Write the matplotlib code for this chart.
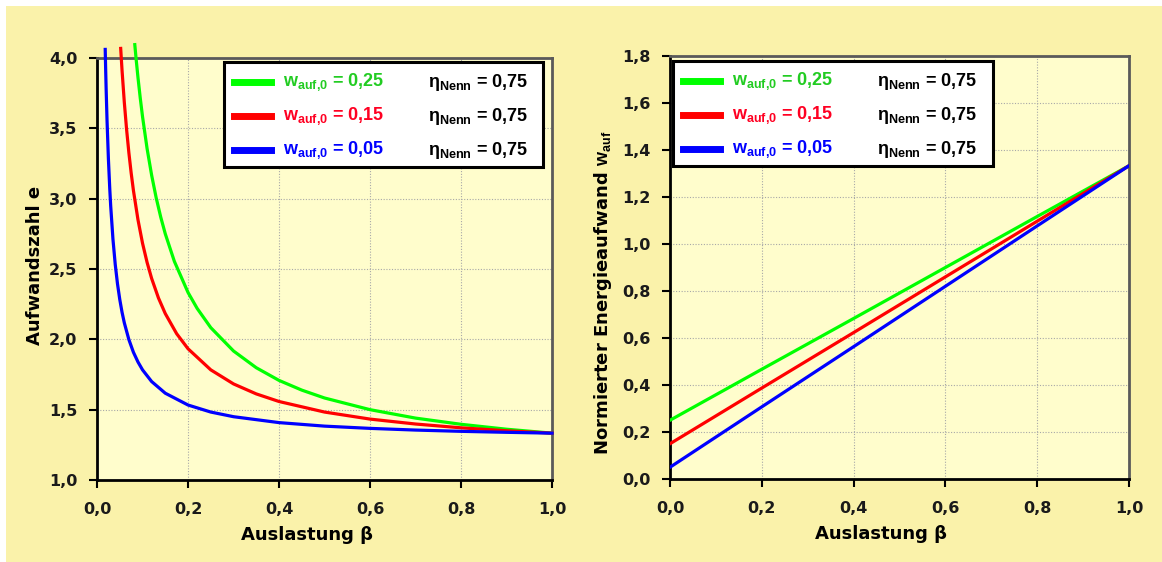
import matplotlib
matplotlib.use("Agg")
import matplotlib.pyplot as plt
from matplotlib.patches import Rectangle
from matplotlib.lines import Line2D
from matplotlib.ticker import FuncFormatter, MultipleLocator

plt.rcParams['font.family'] = ['Liberation Sans', 'DejaVu Sans']
plt.rcParams['mathtext.fontset'] = 'custom'
plt.rcParams['mathtext.rm'] = 'Liberation Sans'
plt.rcParams['mathtext.bf'] = 'Liberation Sans:bold'
plt.rcParams['mathtext.it'] = 'Liberation Sans:italic'

# Aufwandszahl e over Auslastung beta
beta_g = [0.083, 0.086, 0.09, 0.095, 0.1, 0.11, 0.12, 0.13, 0.14, 0.15, 0.17, 0.2,
          0.22, 0.25, 0.3, 0.35, 0.4, 0.45, 0.5, 0.6, 0.7, 0.8, 0.9, 1.0]
e_g = [4.095, 3.99, 3.861, 3.715, 3.583, 3.356, 3.167, 3.006, 2.869, 2.75, 2.554, 2.333,
       2.22, 2.083, 1.917, 1.798, 1.708, 1.639, 1.583, 1.50, 1.44, 1.396, 1.361, 1.333]
beta_r = [0.052, 0.055, 0.06, 0.065, 0.07, 0.075, 0.08, 0.09, 0.1, 0.11, 0.12, 0.135,
          0.15, 0.175, 0.2, 0.25, 0.3, 0.35, 0.4, 0.5, 0.6, 0.7, 0.8, 0.9, 1.0]
e_r = [4.068, 3.911, 3.683, 3.491, 3.326, 3.183, 3.058, 2.85, 2.683, 2.547, 2.433, 2.294,
       2.183, 2.04, 1.933, 1.783, 1.683, 1.612, 1.558, 1.483, 1.433, 1.398, 1.371, 1.35, 1.333]
beta_b = [0.018, 0.019, 0.02, 0.022, 0.025, 0.028, 0.03, 0.035, 0.04, 0.045, 0.05, 0.055,
          0.06, 0.07, 0.08, 0.09, 0.1, 0.12, 0.15, 0.2, 0.25, 0.3, 0.4, 0.5, 0.6, 0.7,
          0.8, 0.9, 1.0]
e_b = [4.061, 3.915, 3.783, 3.556, 3.283, 3.069, 2.95, 2.712, 2.533, 2.394, 2.283, 2.192,
       2.117, 1.998, 1.908, 1.839, 1.783, 1.70, 1.617, 1.533, 1.483, 1.45, 1.408, 1.383,
       1.367, 1.355, 1.346, 1.339, 1.333]

# normierter Energieaufwand w_auf over beta
beta_lin = [0.0, 0.2, 0.4, 0.6, 0.8, 1.0]
w_g = [0.25, 0.467, 0.683, 0.90, 1.117, 1.333]
w_r = [0.15, 0.387, 0.623, 0.86, 1.097, 1.333]
w_b = [0.05, 0.307, 0.563, 0.82, 1.077, 1.333]

w0_labels = ['0,25', '0,15', '0,05']
eta_label = '0,75'
line_cols = ['#00FF00', '#FF0000', '#0000FF']
text_cols = ['#22CC22', '#FF0022', '#0000FF']

bg = '#FAF2AA'
face = '#FFFDCC'
wide = 'DejaVu Sans'

fig = plt.figure(figsize=(11.62, 5.62), dpi=100)
fig.patch.set_facecolor('white')
fig.patches.append(Rectangle((6 / 1162, 0), 1 - 6 / 1162, 1 - 6 / 562,
                             transform=fig.transFigure, facecolor=bg,
                             edgecolor='none', zorder=-10))

ax1 = fig.add_axes([0.0835, 0.1459, 0.3916, 0.7509])
ax2 = fig.add_axes([0.5766, 0.1477, 0.3950, 0.7527])

comma = FuncFormatter(lambda v, p: ('%.1f' % v).replace('.', ','))


def style(ax):
    ax.set_facecolor(face)
    ax.grid(True, color='#a8a8a8', linestyle=(0, (1, 1.5)), linewidth=0.8)
    ax.set_axisbelow(True)
    for s in ['left', 'bottom']:
        ax.spines[s].set_color('black')
        ax.spines[s].set_linewidth(2)
    for s in ['top', 'right']:
        ax.spines[s].set_color('#5a5a5a')
        ax.spines[s].set_linewidth(2)
    ax.tick_params(direction='out', length=6, width=1.5, color='black',
                   labelsize=11.5)
    ax.tick_params(axis='y', pad=8)
    ax.tick_params(axis='x', pad=10)
    ax.xaxis.set_major_locator(MultipleLocator(0.2))
    ax.xaxis.set_major_formatter(comma)
    ax.yaxis.set_major_formatter(comma)
    ax.set_xlim(0, 1)
    ax.set_xlabel('Auslastung β', fontsize=13, fontweight='bold', family=wide)


def bold_ticks(ax):
    for lab in ax.get_xticklabels() + ax.get_yticklabels():
        lab.set_fontweight('bold')
        lab.set_family(wide)
        lab.set_color('#1a1a1a')


def draw_key(ax, box):
    x0, y0, x1, y1 = box
    # pixel size of the box, for placing things inside it
    bbox = ax.get_position()
    wpx = (x1 - x0) * bbox.width * 1162
    hpx = (y1 - y0) * bbox.height * 562
    fx = lambda px: x0 + px / wpx * (x1 - x0)
    fy = lambda px: y1 - px / hpx * (y1 - y0)
    ax.add_patch(Rectangle((x0 + 0.004, y0 - 0.006), x1 - x0, y1 - y0,
                           transform=ax.transAxes, facecolor='#909090',
                           edgecolor='none', zorder=9, clip_on=False))
    ax.add_patch(Rectangle((x0, y0), x1 - x0, y1 - y0, transform=ax.transAxes,
                           facecolor='white', edgecolor='black', linewidth=2.2,
                           zorder=10, clip_on=False))
    for i in range(3):
        yy = fy(20 + 34 * i)
        ax.add_line(Line2D([fx(10), fx(47)], [yy, yy], color=line_cols[i],
                           linewidth=5, transform=ax.transAxes, zorder=11,
                           clip_on=False))
        ax.text(fx(59), yy, r'$\mathbf{w}_{\mathbf{auf{,}0}}$ = ' + w0_labels[i],
                transform=ax.transAxes, color=text_cols[i], fontsize=13,
                fontweight='bold', va='center', ha='left', zorder=11)
        ax.text(fx(204), yy, r'$\mathbf{\eta}_{\mathbf{Nenn}}$ = ' + eta_label,
                transform=ax.transAxes, color='black', fontsize=13,
                fontweight='bold', va='center', ha='left', zorder=11)


# left chart
style(ax1)
ax1.set_ylim(1.0, 4.0)
ax1.yaxis.set_major_locator(MultipleLocator(0.5))
ax1.plot(beta_g, e_g, color=line_cols[0], lw=2.3, clip_on=False, zorder=5)
ax1.plot(beta_r, e_r, color=line_cols[1], lw=2.3, clip_on=False, zorder=5)
ax1.plot(beta_b, e_b, color=line_cols[2], lw=2.3, clip_on=False, zorder=5)
ax1.set_ylabel('Aufwandszahl e', fontsize=13, fontweight='bold', family=wide)
ax1.yaxis.set_label_coords(-0.1165, 0.509)
ax1.xaxis.set_label_coords(0.4615, -0.108)
bold_ticks(ax1)
draw_key(ax1, (0.279, 0.742, 0.980, 0.990))

# right chart
style(ax2)
ax2.set_ylim(0.0, 1.8)
ax2.yaxis.set_major_locator(MultipleLocator(0.2))
ax2.plot(beta_lin, w_g, color=line_cols[0], lw=2.3, zorder=5)
ax2.plot(beta_lin, w_r, color=line_cols[1], lw=2.3, zorder=5)
ax2.plot(beta_lin, w_b, color=line_cols[2], lw=2.3, zorder=5)
ax2.set_ylabel(r'Normierter Energieaufwand $\mathbf{w}_{\mathbf{auf}}$',
               fontsize=13, fontweight='bold', family=wide)
ax2.yaxis.set_label_coords(-0.122, 0.44)
ax2.xaxis.set_label_coords(0.46, -0.108)
bold_ticks(ax2)
draw_key(ax2, (0.0065, 0.740, 0.704, 0.988))

fig.savefig('out.png', dpi=100, facecolor=fig.get_facecolor())
